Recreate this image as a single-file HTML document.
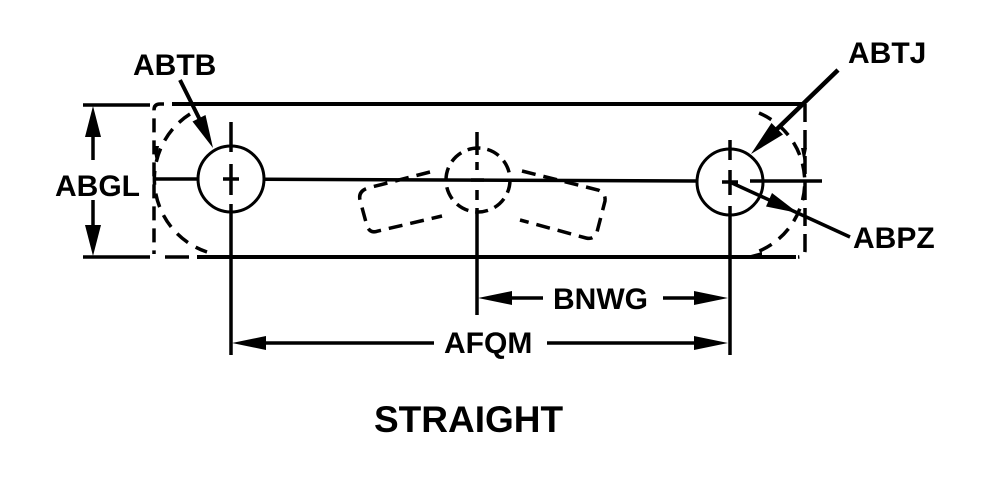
<!DOCTYPE html>
<html>
<head>
<meta charset="utf-8">
<style>
  html, body { margin: 0; padding: 0; background: #fff; }
  body { width: 990px; height: 480px; overflow: hidden; }
  svg { display: block; }
  text { font-family: "Liberation Sans", Arial, sans-serif; font-weight: bold; fill: #000; }
</style>
</head>
<body>
<svg width="990" height="480" viewBox="0 0 990 480" xmlns="http://www.w3.org/2000/svg">
  <g stroke="#000" stroke-width="3.5" fill="none">
    <!-- ABGL extension lines -->
    <line x1="83" y1="105" x2="150" y2="105"/>
    <line x1="83" y1="257" x2="150" y2="257"/>
    <!-- ABGL dimension line -->
    <line x1="93" y1="130" x2="93" y2="160"/>
    <line x1="93" y1="200" x2="93" y2="232"/>

    <!-- main outline top & bottom -->
    <line x1="172" y1="104" x2="806" y2="104" stroke-width="4"/>
    <line x1="197" y1="257" x2="796" y2="257" stroke-width="4"/>
    <!-- left dashed end with rounded corner -->
    <path d="M164,104 H160 Q154,104 154,110 V254" stroke-dasharray="14 8"/>
    <line x1="165" y1="257" x2="189" y2="257"/>
    <!-- right dashed end with rounded corner -->
    <path d="M805,104 V250 Q805,257 798,257" stroke-dasharray="18 8"/>

    <!-- horizontal centerline -->
    <line x1="154" y1="179" x2="198" y2="179"/>
    <line x1="264" y1="179.3" x2="697" y2="181"/>
    <line x1="750" y1="181" x2="822" y2="181"/>
    <!-- crosshairs -->
    <line x1="223" y1="179" x2="239" y2="179"/>
    <line x1="722" y1="182" x2="738" y2="182"/>

    <!-- left hole -->
    <circle cx="231" cy="179" r="33" stroke-width="3"/>
    <line x1="231" y1="122" x2="231" y2="152"/>
    <line x1="231" y1="164" x2="231" y2="195"/>
    <line x1="231" y1="204" x2="231" y2="355"/>

    <!-- right hole -->
    <circle cx="730" cy="182" r="33" stroke-width="3"/>
    <line x1="730" y1="140" x2="730" y2="160"/>
    <line x1="730" y1="170" x2="730" y2="195"/>
    <line x1="730" y1="206" x2="730" y2="355"/>

    <!-- middle dashed hole -->
    <circle cx="478" cy="180" r="32" stroke-dasharray="13 7"/>
    <line x1="477" y1="132" x2="477" y2="155"/>
    <line x1="477" y1="162" x2="477" y2="170"/>
    <line x1="471" y1="180" x2="484" y2="180"/>
    <line x1="477" y1="190" x2="477" y2="200"/>
    <line x1="477" y1="208" x2="477" y2="315"/>

    <!-- wings -->
    <path d="M430,172 L368,188 Q358,191 360,200 L367,226 Q370,234 378,231 L442,216" stroke-dasharray="14 8"/>
    <path d="M522,171 L598,190 Q606,193 605,201 L597,232 Q594,240 586,238 L520,220" stroke-dasharray="14 8"/>

    <!-- dashed arcs -->
    <path d="M190,114 A77,77 0 0 0 207,252" stroke-dasharray="14 9"/>
    <path d="M759,113 A75,75 0 0 1 751,254" stroke-dasharray="14 9"/>

    <!-- ABTB leader -->
    <line x1="180" y1="80" x2="200" y2="120" stroke-width="4"/>
    <!-- ABTJ leader -->
    <line x1="838" y1="70" x2="775" y2="131" stroke-width="4.5"/>
    <!-- ABPZ leader -->
    <line x1="732" y1="183" x2="850" y2="237"/>

    <!-- BNWG dimension -->
    <line x1="510" y1="298" x2="543" y2="298"/>
    <line x1="663" y1="298" x2="696" y2="298"/>
    <!-- AFQM dimension -->
    <line x1="264" y1="343" x2="434" y2="343"/>
    <line x1="547" y1="343" x2="698" y2="343"/>
  </g>

  <g fill="#000" stroke="none">
    <!-- ABGL arrowheads -->
    <polygon points="93,106 85,137 101,137"/>
    <polygon points="93,256 85,225 101,225"/>
    <!-- ABTB arrowhead -->
    <polygon points="213,148 205.5,115 192.5,121.5"/>
    <!-- ABTJ arrowhead -->
    <polygon points="751,154 783,134.5 771.5,123"/>
    <!-- ABPZ arrowhead -->
    <polygon points="798,213 766,206.5 772,193"/>
    <!-- small arc arrowheads -->
    <polygon points="156,162 153,146 159,146"/>
    <polygon points="804,163 801,148 807,148"/>
    <polygon points="747,256 762,252 762,259"/>
    <!-- BNWG arrowheads -->
    <polygon points="478,298 512,291 512,305"/>
    <polygon points="728,298 694,291 694,305"/>
    <!-- AFQM arrowheads -->
    <polygon points="232,343 266,336 266,350"/>
    <polygon points="728,343 694,336 694,350"/>
  </g>

  <text x="133" y="75" font-size="30">ABTB</text>
  <text x="848" y="63" font-size="30">ABTJ</text>
  <text x="55" y="196" font-size="30">ABGL</text>
  <text x="853" y="248" font-size="30">ABPZ</text>
  <text x="553" y="309" font-size="30">BNWG</text>
  <text x="444" y="353" font-size="30">AFQM</text>
  <text x="374" y="432" font-size="37">STRAIGHT</text>
</svg>
</body>
</html>
